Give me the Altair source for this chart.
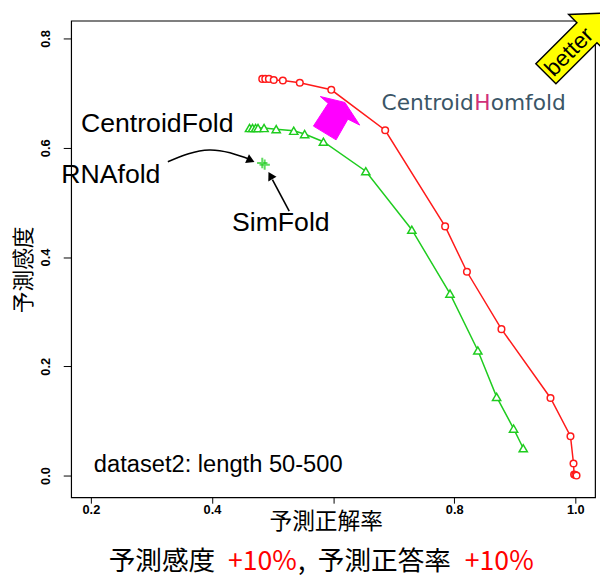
import altair as alt
import pandas as pd

# ---- data ----
homfold_x = [0.483, 0.488, 0.494, 0.502, 0.517, 0.545, 0.597, 0.686, 0.785, 0.821,
             0.878, 0.959, 0.992, 0.997, 0.998, 1.000, 1.002]
homfold_y = [0.726, 0.726, 0.726, 0.724, 0.723, 0.719, 0.706, 0.632, 0.456, 0.373,
             0.268, 0.142, 0.072, 0.022, 0.002, 0.001, 0.000]

centroid_x = [0.462, 0.467, 0.472, 0.476, 0.486, 0.506, 0.535, 0.553, 0.584, 0.654,
              0.730, 0.793, 0.839, 0.870, 0.898, 0.914]
centroid_y = [0.636, 0.636, 0.636, 0.636, 0.636, 0.634, 0.631, 0.625, 0.611, 0.557,
              0.450, 0.333, 0.229, 0.144, 0.086, 0.050]

single_x = [0.483, 0.487]          # RNAfold, SimFold
single_y = [0.572, 0.569]

x_ticks = [0.2, 0.4, 0.6, 0.8, 1.0]
y_ticks = [0.0, 0.2, 0.4, 0.6, 0.8]
x_domain = [0.1674, 1.0326]
y_domain = [-0.0397, 0.8325]

# annotation texts (data coordinates)
label_text = ["CentroidFold", "RNAfold", "SimFold", "dataset2: length 50-500"]
label_x = [0.1837, 0.1511, 0.4330, 0.2049]
label_y = [0.643, 0.549, 0.4623, 0.0199]
label_size = [27, 27, 27, 24]

brand_text = ["Centroid", "H", "omfold"]
brand_x = [0.6800, 0.8332, 0.8602]
brand_y = [0.6808, 0.6808, 0.6808]
brand_color = ["#3B5667", "#D0307A", "#3B5667"]

caption_text = ["予測感度", "+10%", ",", "予測正答率", "+10%"]
caption_x = [0.2293, 0.4265, 0.5422, 0.5747, 0.8175]
caption_y = [-0.158] * 5
caption_color = ["black", "#FF0000", "black", "black", "#FF0000"]

# magenta block arrow polygon
poly_x = [0.5675, 0.5919, 0.5789, 0.6195, 0.6439, 0.6244, 0.6049]
poly_y = [0.6396, 0.6811, 0.6937, 0.6829, 0.6414, 0.6523, 0.6144]

# annotation arrows
curve_x = [0.3271, 0.3955, 0.4640]
curve_y = [0.5743, 0.5959, 0.5779]
straight_x = [0.5275, 0.4998]
straight_y = [0.4840, 0.5418]
head_x = [0.4640, 0.4965]
head_y = [0.5770, 0.5490]
head_angle = [114, 331]

better_x = [1.0016]
better_y = [0.791]
better_text_x = [0.990]
better_text_y = [0.775]

# ---- frames ----
df_h = pd.DataFrame({"x": homfold_x, "y": homfold_y, "i": range(len(homfold_x))})
df_c = pd.DataFrame({"x": centroid_x, "y": centroid_y, "i": range(len(centroid_x))})
df_s = pd.DataFrame({"x": single_x, "y": single_y})
df_lab = pd.DataFrame({"t": label_text, "x": label_x, "y": label_y, "s": label_size})
df_brand = pd.DataFrame({"t": brand_text, "x": brand_x, "y": brand_y, "c": brand_color})
df_cap = pd.DataFrame({"t": caption_text, "x": caption_x, "y": caption_y, "c": caption_color})
df_poly = pd.DataFrame({"x": poly_x, "y": poly_y, "i": range(len(poly_x))})
df_curve = pd.DataFrame({"x": curve_x, "y": curve_y, "i": range(len(curve_x))})
df_str = pd.DataFrame({"x": straight_x, "y": straight_y, "i": range(len(straight_x))})
df_head = pd.DataFrame({"x": head_x, "y": head_y, "a": head_angle})
df_better = pd.DataFrame({"x": better_x, "y": better_y})
df_better_t = pd.DataFrame({"x": better_text_x, "y": better_text_y, "t": ["better"]})

LAT = "Liberation Sans"
CJK = "Noto Sans CJK JP"

xs = alt.Scale(domain=x_domain, nice=False, zero=False)
ys = alt.Scale(domain=y_domain, nice=False, zero=False)

X = alt.X("x:Q", scale=xs, axis=alt.Axis(
    values=x_ticks, title="予測正解率", grid=False, domain=False,
    labelExpr="datum.value == 0.6 ? '' : format(datum.value, '.1f')",
    labelFont=LAT, labelFontSize=13, labelFontWeight="bold", labelColor="black",
    tickColor="black", tickSize=6, labelPadding=0,
    titleFont=CJK, titleFontSize=23, titleFontWeight="normal", titleColor="black",
    titleX=258, titleY=25, titleBaseline="middle"))
Y = alt.Y("y:Q", scale=ys, axis=alt.Axis(
    values=y_ticks, title="予測感度", grid=False, domain=False, format=".1f",
    labelFont=LAT, labelFontSize=13, labelFontWeight="bold", labelColor="black",
    labelAngle=270, labelAlign="center", labelBaseline="bottom", labelPadding=11,
    tickColor="black", tickSize=8,
    titleFont=CJK, titleFontSize=22, titleFontWeight="normal", titleColor="black",
    titleAngle=270, titleX=-48, titleY=252, titleBaseline="middle"))

RED = "#FF1A1A"
GREEN = "#1FCC1F"

red_line = alt.Chart(df_h).mark_line(color=RED, strokeWidth=1.5).encode(x=X, y=Y, order="i:Q")
red_pts = alt.Chart(df_h).mark_point(shape="circle", color=RED, size=45, strokeWidth=1.5,
                                     filled=False, fill="white", fillOpacity=1).encode(x=X, y=Y)
green_line = alt.Chart(df_c).mark_line(color=GREEN, strokeWidth=1.5).encode(x=X, y=Y, order="i:Q")
green_pts = alt.Chart(df_c).mark_point(shape="triangle-up", color=GREEN, size=70, strokeWidth=1.5,
                                       filled=False, fill="white", fillOpacity=1).encode(x=X, y=Y)
plus_pts = alt.Chart(df_s).mark_point(shape="M-1,0L1,0M0,-1L0,1", color=GREEN, size=110,
                                      strokeWidth=2, filled=False).encode(x=X, y=Y)

poly = alt.Chart(df_poly).mark_line(interpolate="linear-closed", stroke="#FF00FF", fill="#FF00FF",
                                    strokeWidth=1).encode(x=X, y=Y, order="i:Q")

curve = alt.Chart(df_curve).mark_line(interpolate="natural", color="black", strokeWidth=1.6).encode(
    x=X, y=Y, order="i:Q")
straight = alt.Chart(df_str).mark_line(color="black", strokeWidth=1.6).encode(x=X, y=Y, order="i:Q")
heads = alt.Chart(df_head).mark_point(shape="triangle-up", filled=True, color="black", size=90,
                                      opacity=1).encode(x=X, y=Y, angle=alt.Angle("a:Q", scale=None))

labels = alt.Chart(df_lab).mark_text(align="left", baseline="middle", font=LAT, color="black").encode(
    x=X, y=Y, text="t:N", size=alt.Size("s:Q", scale=None))
brand = alt.Chart(df_brand).mark_text(align="left", baseline="middle", font="DejaVu Sans",
                                      fontSize=22).encode(
    x=X, y=Y, text="t:N", color=alt.Color("c:N", scale=None))
caption = alt.Chart(df_cap).mark_text(align="left", baseline="middle", font=f"{CJK}, {LAT}",
                                      fontSize=27).encode(
    x=X, y=Y, text="t:N", color=alt.Color("c:N", scale=None))

better_arrow = alt.Chart(df_better).mark_point(
    shape="M-0.33,1L0.33,1L0.33,-0.35L0.6,-0.35L0,-1L-0.6,-0.35L-0.33,-0.35Z",
    filled=True, fill="#FFFF00", stroke="black", strokeWidth=1.5, fillOpacity=1, opacity=1,
    size=7600, angle=45).encode(x=X, y=Y)
better_text = alt.Chart(df_better_t).mark_text(angle=315, font=LAT, fontSize=23, color="black",
                                               align="center", baseline="middle").encode(
    x=X, y=Y, text="t:N")

chart = alt.layer(
    green_line, red_line, poly, green_pts, red_pts, plus_pts,
    curve, straight, heads, labels, brand, caption, better_arrow, better_text
).properties(
    width=531, height=483,
    autosize=alt.AutoSizeParams(type="none"),
    padding={"left": 64, "top": 9, "right": 5, "bottom": 80},
    background="white",
).configure_view(stroke="black", strokeWidth=1.2)

chart.save("out.html", embed_options={"renderer": "svg", "actions": False})
